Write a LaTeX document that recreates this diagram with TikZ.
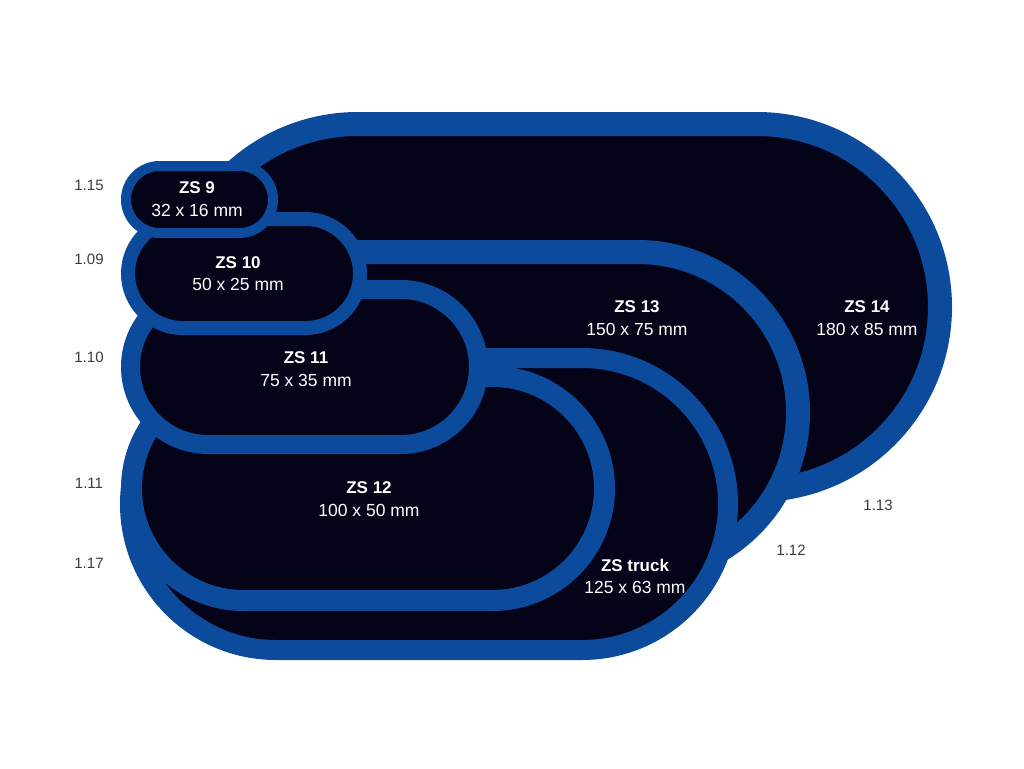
\documentclass[tikz,border=0pt]{standalone}
\usepackage{fontspec}
\setmainfont{Liberation Sans}
\definecolor{bandblue}{RGB}{12,74,155}
\definecolor{patchnavy}{RGB}{5,3,24}
\definecolor{labelgray}{RGB}{60,60,60}
\begin{document}
\begin{tikzpicture}[x=1pt,y=-1pt,
  patch/.style={fill=patchnavy,draw=bandblue},
  title/.style={text=white,font=\fontsize{17}{19}\selectfont\bfseries,inner sep=0pt},
  dims/.style={text=white,font=\fontsize{17.5}{19}\selectfont,inner sep=0pt},
  code/.style={text=labelgray,font=\fontsize{15}{17}\selectfont,inner sep=0pt}]
\path[use as bounding box,fill=white] (0,0) rectangle (1024,768);
% patches, back to front
\draw[patch,line width=24pt,rounded corners=183pt] (175,124) rectangle (940,490);
\draw[patch,line width=24pt,rounded corners=160.5pt] (192,252) rectangle (798,573);
\draw[patch,line width=20pt,rounded corners=146pt] (130,358) rectangle (728,650);
\draw[patch,line width=21pt,rounded corners=112pt] (131.5,376.5) rectangle (604.5,600.5);
\draw[patch,line width=19pt,rounded corners=77.5pt] (130.5,289.5) rectangle (478.5,444.5);
\draw[patch,line width=14pt,rounded corners=54.5pt] (128,219) rectangle (360,328);
\draw[patch,line width=10pt,rounded corners=33.5pt] (126,166) rectangle (273,233);
% patch texts
\node[title] (n9) at (197,188) {ZS 9};
\node[dims] (d9) at (197,210) {32 x 16 mm};
\node[title] (n10) at (238,263) {ZS 10};
\node[dims] (d10) at (238,284) {50 x 25 mm};
\node[title] (n11) at (306,358) {ZS 11};
\node[dims] (d11) at (306,380) {75 x 35 mm};
\node[title] (n12) at (369,488) {ZS 12};
\node[dims] (d12) at (369,510) {100 x 50 mm};
\node[title] (n13) at (637,307) {ZS 13};
\node[dims] (d13) at (637,329) {150 x 75 mm};
\node[title] (n14) at (867,307) {ZS 14};
\node[dims] (d14) at (867,329) {180 x 85 mm};
\node[title] (nt) at (635,565) {ZS truck};
\node[dims] (dt) at (635,587) {125 x 63 mm};
% reference codes
\node[code] (c115) at (89,185) {1.15};
\node[code] (c109) at (89,259) {1.09};
\node[code] (c110) at (89,357) {1.10};
\node[code] (c111) at (89,483) {1.11};
\node[code] (c117) at (89,563) {1.17};
\node[code] (c113) at (878,505) {1.13};
\node[code] (c112) at (791,550) {1.12};
\end{tikzpicture}
\end{document}
